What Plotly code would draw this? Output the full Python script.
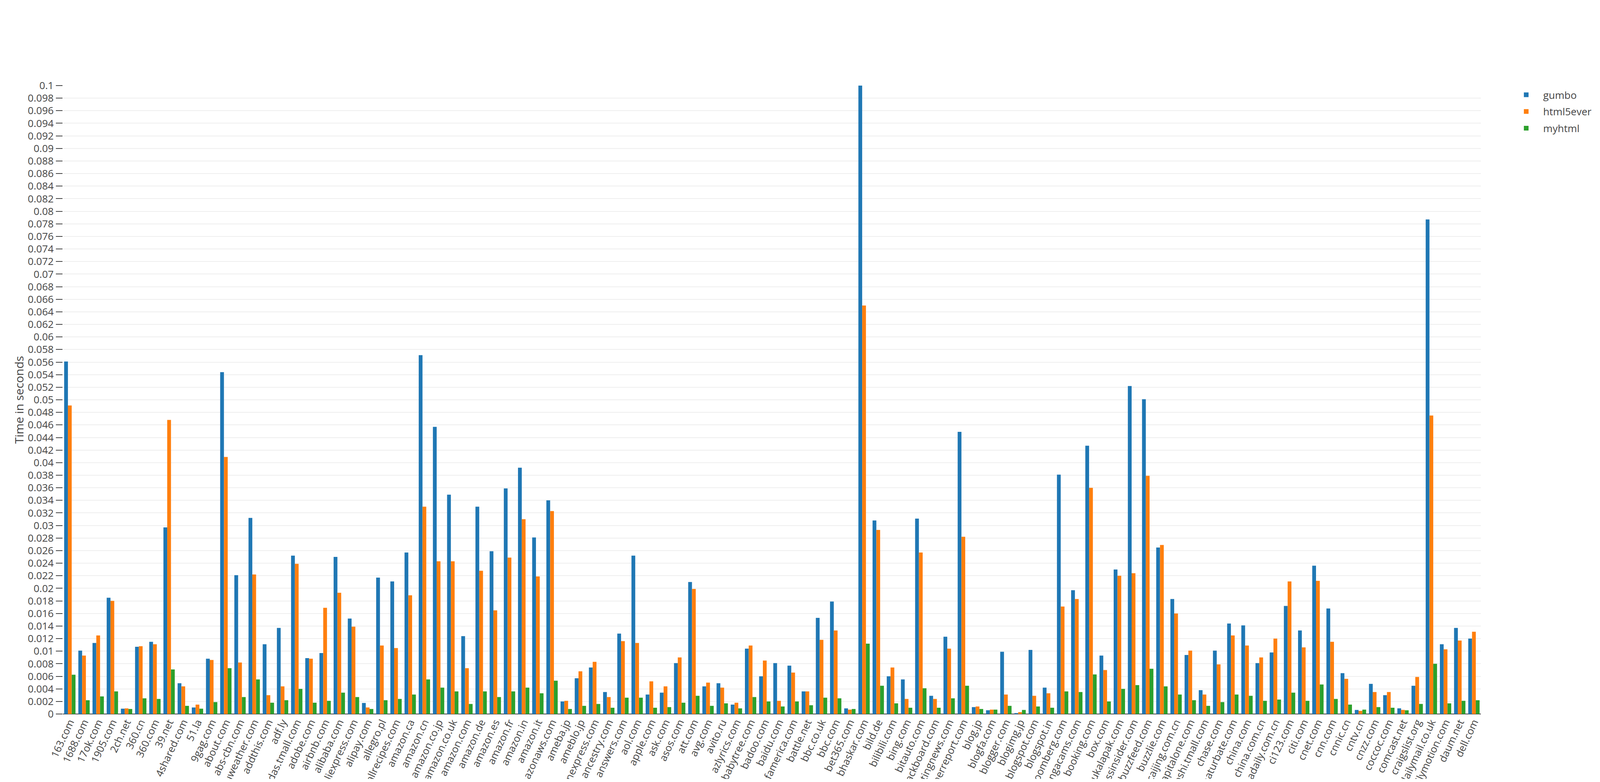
import plotly.graph_objects as go

sites = [
    "163.com", "1688.com", "17ok.com", "1905.com", "2ch.net", "360.cn", "360.com", "39.net", "4shared.com", "51.la",
    "9gag.com", "about.com", "abs-cbn.com", "accuweather.com", "addthis.com", "adf.ly", "adidas.tmall.com", "adobe.com", "airbnb.com", "alibaba.com",
    "aliexpress.com", "alipay.com", "allegro.pl", "allrecipes.com", "amazon.ca", "amazon.cn", "amazon.co.jp", "amazon.co.uk", "amazon.com", "amazon.de",
    "amazon.es", "amazon.fr", "amazon.in", "amazon.it", "amazonaws.com", "ameba.jp", "ameblo.jp", "americanexpress.com", "ancestry.com", "answers.com",
    "aol.com", "apple.com", "ask.com", "asos.com", "att.com", "avg.com", "avito.ru", "azlyrics.com", "babytree.com", "badoo.com",
    "baidu.com", "bankofamerica.com", "battle.net", "bbc.co.uk", "bbc.com", "bet365.com", "bhaskar.com", "bild.de", "bilibili.com", "bing.com",
    "bitauto.com", "blackboard.com", "blastingnews.com", "bleacherreport.com", "blog.jp", "blogfa.com", "blogger.com", "blogimg.jp", "blogspot.com", "blogspot.in",
    "bloomberg.com", "bongacams.com", "booking.com", "box.com", "bukalapak.com", "businessinsider.com", "buzzfeed.com", "buzzlie.com", "caijing.com.cn", "capitalone.com",
    "chaoshi.tmall.com", "chase.com", "chaturbate.com", "china.com", "china.com.cn", "chinadaily.com.cn", "ci123.com", "citi.com", "cnet.com", "cnn.com",
    "cnnic.cn", "cntv.cn", "cnzz.com", "coccoc.com", "comcast.net", "craigslist.org", "dailymail.co.uk", "dailymotion.com", "daum.net", "dell.com",
]

gumbo = [
    0.0561, 0.0101, 0.0113, 0.0185, 0.00085, 0.0107, 0.0115, 0.0297, 0.0049, 0.00104,
    0.0088, 0.0544, 0.0221, 0.0312, 0.0111, 0.0137, 0.0252, 0.0089, 0.0097, 0.0250,
    0.0152, 0.00176, 0.0217, 0.0211, 0.0257, 0.0571, 0.0457, 0.0349, 0.0124, 0.0330,
    0.0259, 0.0359, 0.0392, 0.0281, 0.0340, 0.0020, 0.0057, 0.0074, 0.0035, 0.0128,
    0.0252, 0.0031, 0.0034, 0.0081, 0.0210, 0.0044, 0.0049, 0.0015, 0.0104, 0.0060,
    0.0081, 0.0077, 0.0036, 0.0153, 0.0179, 0.0009, 0.1, 0.0308, 0.0060, 0.0055,
    0.0311, 0.0029, 0.0123, 0.0449, 0.0011, 0.0006, 0.0099, 0.00015, 0.0102, 0.0042,
    0.0381, 0.0197, 0.0427, 0.0093, 0.0230, 0.0522, 0.0501, 0.0265, 0.0183, 0.0094,
    0.0038, 0.0101, 0.0144, 0.0141, 0.0081, 0.0098, 0.0172, 0.0133, 0.0236, 0.0168,
    0.0065, 0.00065, 0.0048, 0.0030, 0.0009, 0.0045, 0.0787, 0.0111, 0.0137, 0.0120,
]

html5ever = [
    0.0491, 0.0093, 0.0125, 0.0180, 0.0009, 0.0108, 0.0111, 0.0468, 0.0044, 0.0015,
    0.0086, 0.0409, 0.0082, 0.0222, 0.0030, 0.0044, 0.0239, 0.0088, 0.0169, 0.0193,
    0.0139, 0.00104, 0.0109, 0.0105, 0.0189, 0.0330, 0.0243, 0.0243, 0.0073, 0.0228,
    0.0165, 0.0249, 0.0310, 0.0219, 0.0323, 0.0021, 0.0068, 0.0083, 0.0027, 0.0116,
    0.0113, 0.0052, 0.0044, 0.0090, 0.0199, 0.0050, 0.0042, 0.0018, 0.0109, 0.0085,
    0.0021, 0.0066, 0.0036, 0.0118, 0.0133, 0.0007, 0.0650, 0.0293, 0.0074, 0.0024,
    0.0257, 0.0024, 0.0104, 0.0282, 0.0012, 0.0007, 0.0031, 0.0003, 0.0029, 0.0033,
    0.0171, 0.0183, 0.0360, 0.0070, 0.0220, 0.0224, 0.0379, 0.0269, 0.0160, 0.0101,
    0.0031, 0.0079, 0.0125, 0.0109, 0.0090, 0.0120, 0.0211, 0.0106, 0.0212, 0.0115,
    0.0056, 0.0005, 0.0035, 0.0035, 0.00065, 0.0059, 0.0475, 0.0103, 0.0117, 0.0131,
]

myhtml = [
    0.00625, 0.0022, 0.0028, 0.0036, 0.0008, 0.0025, 0.0024, 0.0071, 0.0013, 0.00085,
    0.0019, 0.0073, 0.0027, 0.0055, 0.0018, 0.0022, 0.0040, 0.0018, 0.0021, 0.0034,
    0.0027, 0.0008, 0.0022, 0.0024, 0.0031, 0.0055, 0.0042, 0.0036, 0.0016, 0.0036,
    0.0027, 0.0036, 0.0042, 0.0033, 0.0053, 0.0008, 0.0013, 0.0016, 0.0010, 0.0026,
    0.0026, 0.0010, 0.0011, 0.0018, 0.0029, 0.0013, 0.0017, 0.0009, 0.0027, 0.0020,
    0.0012, 0.0020, 0.0014, 0.0026, 0.0025, 0.0008, 0.0112, 0.0045, 0.0017, 0.0010,
    0.0041, 0.0010, 0.0025, 0.0045, 0.0008, 0.0007, 0.0013, 0.00065, 0.0012, 0.0010,
    0.0036, 0.0035, 0.0063, 0.0020, 0.0040, 0.0046, 0.0072, 0.0044, 0.0031, 0.0022,
    0.0013, 0.0019, 0.0031, 0.0029, 0.0021, 0.0023, 0.0034, 0.0021, 0.0047, 0.0024,
    0.0015, 0.0007, 0.0011, 0.0010, 0.0006, 0.0016, 0.0080, 0.0017, 0.0021, 0.0022,
]

parsers = ["gumbo", "html5ever", "myhtml"]
colors = ["#1f77b4", "#ff7f0e", "#2ca02c"]

fig = go.Figure()
for name, vals, col in zip(parsers, [gumbo, html5ever, myhtml], colors):
    fig.add_trace(
        go.Bar(
            x=sites,
            y=vals,
            name=name,
            legendgroup=name,
            marker=dict(color=col, line=dict(width=0)),
        )
    )

# figure fills the window; plot placed with domains so proportions hold
fig.update_layout(
    template="none",
    autosize=True,
    barmode="group",
    font=dict(family="Open Sans, verdana, arial, sans-serif", size=26, color="#444"),
    margin=dict(l=0, r=0, t=0, b=0, pad=0),
    plot_bgcolor="white",
    paper_bgcolor="white",
    legend=dict(
        x=0.945,
        y=0.8937,
        xanchor="left",
        yanchor="top",
        itemwidth=77,
        tracegroupgap=6,
        font=dict(size=26),
    ),
)
fig.update_xaxes(
    domain=[0.0374, 0.9273],
    tickangle=-65,
    showgrid=False,
    ticks="",
    automargin=False,
)
fig.update_yaxes(
    domain=[0.0836, 0.8937],
    title=dict(text="Time in seconds", font=dict(size=30)),
    range=[0, 0.1],
    dtick=0.002,
    tick0=0,
    ticks="outside",
    ticklen=17,
    tickwidth=2,
    tickcolor="#444",
    gridcolor="#eee",
    gridwidth=2,
    zeroline=True,
    zerolinecolor="#444",
    zerolinewidth=2,
    automargin=False,
)

fig.write_html("out.html")
